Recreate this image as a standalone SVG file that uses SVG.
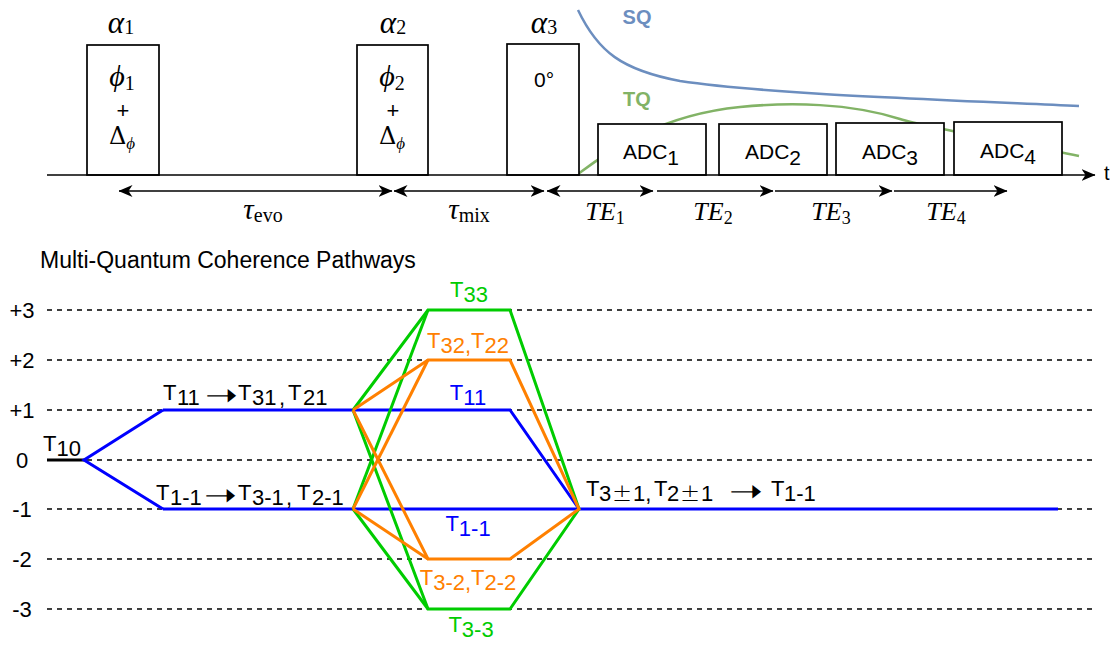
<svg xmlns="http://www.w3.org/2000/svg" width="1117" height="645" viewBox="0 0 1117 645">
<style>
.sans{font-family:"Liberation Sans",Arial,sans-serif}
.math{font-family:"Liberation Serif","DejaVu Serif","Times New Roman",serif}
.box{fill:#fff;stroke:#000;stroke-width:1.7}
.arr{stroke:#000;stroke-width:1.5;fill:none}
.dash{stroke:#000;stroke-width:1.3;stroke-dasharray:5 5;fill:none}
.pb{stroke:#0000FF;stroke-width:3;fill:none}
.pg{stroke:#00CC00;stroke-width:3;fill:none}
.po{stroke:#FF8000;stroke-width:3;fill:none}
.lab{font-family:"Liberation Sans",Arial,sans-serif;font-size:22px}
.sub{font-size:22px}
.arrow-glyph{font-family:"DejaVu Sans",sans-serif;font-size:32px}
.pm{font-family:"DejaVu Sans",sans-serif;font-size:24px;font-weight:200}
.delta{font-family:"DejaVu Serif",serif;font-size:24px}
</style>
<defs>
<marker id="ah" viewBox="0 0 14 12" refX="13.5" refY="6" markerWidth="14" markerHeight="12" markerUnits="userSpaceOnUse" orient="auto-start-reverse"><path d="M0,0 L14,6 L0,12 L4,6 Z" fill="#000"/></marker>
</defs>
<rect width="1117" height="645" fill="#fff"/>

<!-- signal curves -->
<g id="sq-curve">
<path d="M578,10 C598,52 622,70 680,81 C760,93 900,98 1079,106" fill="none" stroke="#6C8EBF" stroke-width="2.5"/>
<text class="sans" x="637" y="24" font-size="20" font-weight="bold" fill="#6C8EBF" text-anchor="middle">SQ</text>
</g>
<g id="tq-curve">
<path d="M578,174 C610,150 660,115 740,107 C790,102 850,103 900,119 C925,127 1000,140 1079,156" fill="none" stroke="#82B366" stroke-width="2.5"/>
<text class="sans" x="637" y="106" font-size="20" font-weight="bold" fill="#82B366" text-anchor="middle">TQ</text>
</g>

<!-- pulses -->
<g id="pulse1">
<rect class="box" x="87" y="45" width="72" height="130"/>
<text class="math" x="121" y="33" text-anchor="middle"><tspan font-style="italic" font-size="31">α</tspan><tspan font-size="20" dy="1">1</tspan></text>
<text class="math" x="122" y="86" text-anchor="middle"><tspan font-style="italic" font-size="30">ϕ</tspan><tspan font-size="20" dy="4">1</tspan></text>
<text class="sans" x="123" y="118" font-size="22" text-anchor="middle">+</text>
<text x="122" y="144" text-anchor="middle"><tspan class="delta">Δ</tspan><tspan class="math" font-style="italic" font-size="17" dy="5">ϕ</tspan></text>
</g>
<g id="pulse2">
<rect class="box" x="357" y="45" width="71" height="130"/>
<text class="math" x="393" y="33" text-anchor="middle"><tspan font-style="italic" font-size="31">α</tspan><tspan font-size="20" dy="1">2</tspan></text>
<text class="math" x="392" y="86" text-anchor="middle"><tspan font-style="italic" font-size="30">ϕ</tspan><tspan font-size="20" dy="4">2</tspan></text>
<text class="sans" x="393" y="118" font-size="22" text-anchor="middle">+</text>
<text x="392" y="144" text-anchor="middle"><tspan class="delta">Δ</tspan><tspan class="math" font-style="italic" font-size="17" dy="5">ϕ</tspan></text>
</g>
<g id="pulse3">
<rect class="box" x="507" y="44" width="72" height="131"/>
<text class="math" x="544" y="33" text-anchor="middle"><tspan font-style="italic" font-size="31">α</tspan><tspan font-size="20" dy="1">3</tspan></text>
<text class="sans" x="544" y="87" font-size="21" text-anchor="middle">0°</text>
</g>

<!-- ADC windows -->
<g id="adc1"><rect class="box" x="598" y="124" width="108" height="51"/><text class="sans" x="651" y="159" font-size="21" text-anchor="middle">ADC<tspan dy="6">1</tspan></text></g>
<g id="adc2"><rect class="box" x="719" y="124" width="108" height="51"/><text class="sans" x="773" y="159" font-size="21" text-anchor="middle">ADC<tspan dy="6">2</tspan></text></g>
<g id="adc3"><rect class="box" x="836" y="123" width="108" height="52"/><text class="sans" x="890" y="159" font-size="21" text-anchor="middle">ADC<tspan dy="6">3</tspan></text></g>
<g id="adc4"><rect class="box" x="954" y="122" width="108" height="53"/><text class="sans" x="1008" y="158" font-size="21" text-anchor="middle">ADC<tspan dy="6">4</tspan></text></g>

<!-- time axis and interval connectors -->
<g id="connectors">
<line class="arr" x1="47" y1="175" x2="1095" y2="175" marker-end="url(#ah)"/>
<line class="arr" x1="119" y1="191" x2="392" y2="191" marker-start="url(#ah)" marker-end="url(#ah)"/>
<line class="arr" x1="394" y1="191" x2="544" y2="191" marker-start="url(#ah)" marker-end="url(#ah)"/>
<line class="arr" x1="547" y1="191" x2="653" y2="191" marker-start="url(#ah)" marker-end="url(#ah)"/>
<line class="arr" x1="657" y1="191" x2="773" y2="191" marker-end="url(#ah)"/>
<line class="arr" x1="775" y1="191" x2="892" y2="191" marker-end="url(#ah)"/>
<line class="arr" x1="894" y1="191" x2="1007" y2="191" marker-end="url(#ah)"/>
</g>
<g id="axis-labels">
<text class="sans" x="1104" y="180" font-size="20">t</text>
<text class="math" x="263" y="219" text-anchor="middle"><tspan font-style="italic" font-size="29">τ</tspan><tspan font-size="20" dy="3">evo</tspan></text>
<text class="math" x="469" y="219" text-anchor="middle"><tspan font-style="italic" font-size="29">τ</tspan><tspan font-size="20" dy="3">mix</tspan></text>
<text class="math" x="605" y="220" text-anchor="middle"><tspan font-style="italic" font-size="26">TE</tspan><tspan font-size="18" dy="4">1</tspan></text>
<text class="math" x="713" y="220" text-anchor="middle"><tspan font-style="italic" font-size="26">TE</tspan><tspan font-size="18" dy="4">2</tspan></text>
<text class="math" x="831" y="220" text-anchor="middle"><tspan font-style="italic" font-size="26">TE</tspan><tspan font-size="18" dy="4">3</tspan></text>
<text class="math" x="946" y="220" text-anchor="middle"><tspan font-style="italic" font-size="26">TE</tspan><tspan font-size="18" dy="4">4</tspan></text>
</g>

<!-- coherence levels -->
<g id="levels">
<text class="sans" x="40" y="268" font-size="23">Multi-Quantum Coherence Pathways</text>
<line class="dash" x1="47" y1="310" x2="1094" y2="310"/>
<line class="dash" x1="47" y1="360" x2="1094" y2="360"/>
<line class="dash" x1="47" y1="410" x2="1094" y2="410"/>
<line class="dash" x1="47" y1="460" x2="1094" y2="460"/>
<line class="dash" x1="47" y1="509" x2="1094" y2="509"/>
<line class="dash" x1="47" y1="559" x2="1094" y2="559"/>
<line class="dash" x1="47" y1="609" x2="1094" y2="609"/>
<g class="sans" font-size="22" text-anchor="middle">
<text x="22" y="318">+3</text>
<text x="22" y="368">+2</text>
<text x="22" y="418">+1</text>
<text x="22" y="468">0</text>
<text x="22" y="517">-1</text>
<text x="22" y="567">-2</text>
<text x="22" y="617">-3</text>
</g>
</g>

<!-- pathways -->
<g id="pathway-t10">
<path d="M47,460 H84" stroke="#000" stroke-width="3" fill="none"/>
<text class="lab" x="43" y="451">T<tspan class="sub" dy="5">10</tspan></text>
</g>
<g id="pathway-blue">
<path class="pb" d="M163,410 L84,460 L163,509"/>
<path class="pb" d="M163,410 H510 L579,509"/>
<path class="pb" d="M163,509 H1058"/>
</g>
<g id="pathway-green">
<path class="pg" d="M353,410 L428,310 H510 L579,509 L510,609 H428 L353,410"/>
<path class="pg" d="M353,509 L428,310"/>
<path class="pg" d="M353,509 L428,609"/>
</g>
<g id="pathway-orange">
<path class="po" d="M353,410 L428,360 H510 L579,509 L510,559 H428 L353,410"/>
<path class="po" d="M353,509 L428,360"/>
<path class="po" d="M353,509 L428,559"/>
</g>

<g id="labels-left">
<text class="lab" y="400"><tspan x="163">T</tspan><tspan class="sub" x="177" dy="5">11</tspan></text>
<text class="arrow-glyph" x="205" y="406" textLength="33" lengthAdjust="spacingAndGlyphs">➝</text>
<text class="lab" y="400"><tspan x="238">T</tspan><tspan class="sub" x="252" dy="5">31</tspan><tspan x="279">,</tspan><tspan x="288" dy="-5">T</tspan><tspan class="sub" x="303" dy="5">21</tspan></text>
<text class="lab" y="500"><tspan x="156">T</tspan><tspan class="sub" x="170" dy="5">1-1</tspan></text>
<text class="arrow-glyph" x="204" y="506" textLength="33" lengthAdjust="spacingAndGlyphs">➝</text>
<text class="lab" y="500"><tspan x="238">T</tspan><tspan class="sub" x="252" dy="5">3-1</tspan><tspan x="286">,</tspan><tspan x="297" dy="-5">T</tspan><tspan class="sub" x="312" dy="5">2-1</tspan></text>
</g>
<g id="labels-middle" class="lab" text-anchor="middle">
<text x="469" y="297" fill="#00CC00">T<tspan class="sub" dy="5">33</tspan></text>
<text x="468" y="348" fill="#FF8000">T<tspan class="sub" dy="5">32,</tspan><tspan dy="-5">T</tspan><tspan class="sub" dy="5">22</tspan></text>
<text x="468" y="400" fill="#0000FF">T<tspan class="sub" dy="5">11</tspan></text>
<text x="468" y="531" fill="#0000FF">T<tspan class="sub" dy="5">1-1</tspan></text>
<text x="468" y="585" fill="#FF8000">T<tspan class="sub" dy="5">3-2,</tspan><tspan dy="-5">T</tspan><tspan class="sub" dy="5">2-2</tspan></text>
<text x="471" y="632" fill="#00CC00">T<tspan class="sub" dy="5">3-3</tspan></text>
</g>
<g id="labels-right">
<text class="lab" y="496"><tspan x="586">T</tspan><tspan class="sub" x="599" dy="5">3</tspan><tspan class="pm" x="612">±</tspan><tspan class="sub" x="633">1,</tspan><tspan x="654" dy="-5">T</tspan><tspan class="sub" x="667" dy="5">2</tspan><tspan class="pm" x="680">±</tspan><tspan class="sub" x="701">1</tspan></text>
<text class="arrow-glyph" x="729" y="502" textLength="34" lengthAdjust="spacingAndGlyphs">➝</text>
<text class="lab" y="496"><tspan x="771">T</tspan><tspan class="sub" x="784" dy="5">1-1</tspan></text>
</g>
</svg>
